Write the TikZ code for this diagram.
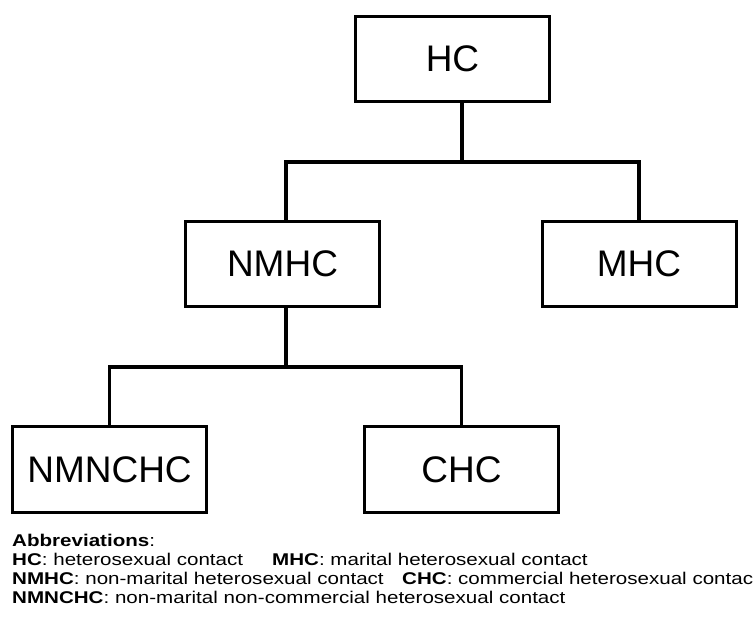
\documentclass[tikz,border=0pt]{standalone}
\usepackage{fontspec}
\setmainfont{Liberation Sans}
\newfontfamily\legendfont[FakeStretch=1.21]{Liberation Sans}

\begin{document}
\begin{tikzpicture}[x=1pt,y=-1pt,
    box/.style={draw,line width=3pt,minimum width=194pt,minimum height=85pt,
      inner sep=0pt,font=\fontsize{37}{40}\selectfont},
    link/.style={line width=3.5pt},
    legend/.style={anchor=base west,inner sep=0pt,
      font=\legendfont\fontsize{17}{19}\selectfont}]

  \clip (0,0) rectangle (753,620);

  % Nodes
  \begin{scope}[every node/.style={box}]
    \node (HC) at (452.5,59) {HC};

    \node (NMHC) at (282.5,264) {NMHC};
    \node (MHC) at (639,264) {MHC};

    \node (NMNCHC) at (109.5,469.5) {NMNCHC};
    \node (CHC) at (461.5,469.5) {CHC};
  \end{scope}

  % Links
  \coordinate (top) at (462,162);
  \coordinate (mid) at (286,367);
  \draw[link] (HC.south -| top) -- (top) -| (NMHC.north -| mid);
  \draw[link] (top) -| (MHC.north);
  \draw[link] (NMHC.south -| mid) -- (mid) -| (NMNCHC.north);
  \draw[link] (mid) -| (CHC.north);

  % Legend
  \node[legend] (abbr) at (12,546) {\textbf{Abbreviations}:};
  \node[legend] (hcdef) at (12,565) {\textbf{HC}: heterosexual contact};
  \node[legend] (mhcdef) at (272,565) {\textbf{MHC}: marital heterosexual contact};
  \node[legend] (nmhcdef) at (12,584) {\textbf{NMHC}: non-marital heterosexual contact};
  \node[legend] (chcdef) at (402,584) {\textbf{CHC}: commercial heterosexual contact};
  \node[legend] (nmnchcdef) at (12,603) {\textbf{NMNCHC}: non-marital non-commercial heterosexual contact};

\end{tikzpicture}
\end{document}
